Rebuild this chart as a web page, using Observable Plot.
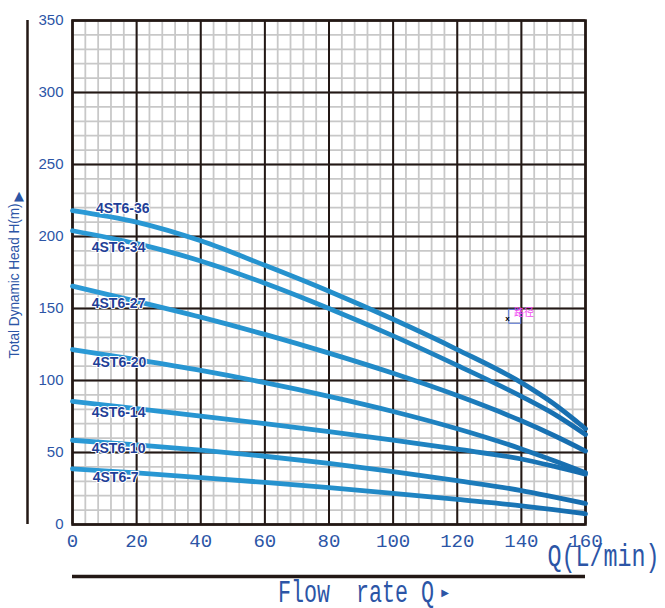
<!DOCTYPE html>
<html><head><meta charset="utf-8">
<script src="https://cdn.jsdelivr.net/npm/d3@7"></script>
<script src="https://cdn.jsdelivr.net/npm/@observablehq/plot@0.6"></script>
<style>body{margin:0;background:#fff}</style>
</head><body><div id="chart"></div>
<script>
// ---- data ----
const models = ["4ST6-36","4ST6-34","4ST6-27","4ST6-20","4ST6-14","4ST6-10","4ST6-7"];
const flow = [0, 20, 40, 60, 80, 100, 120, 140, 150, 160];
const head36 = [218, 210, 197, 180, 162, 142.5, 121.5, 98.5, 84, 66.5];
const head34 = [204, 195, 183, 167.5, 150, 131, 110.5, 89, 77, 62.5];
const head27 = [165.5, 155, 144, 132, 119, 105, 89.5, 72, 62, 51];
const head20 = [121.5, 114.5, 107, 98.5, 89, 78.5, 66.5, 52.5, 44.5, 36];
const head14 = [85.5, 80.5, 75.3, 70, 64.5, 58.6, 52.3, 45.5, 40.5, 35];
const head10 = [58.5, 55.3, 51.7, 47.4, 42.4, 36.7, 30.4, 23.6, 19.2, 14.6];
const head7  = [38.7, 35.8, 32.6, 29.2, 25.6, 21.6, 17.4, 13, 10.3, 7.4];
const heads = [head36, head34, head27, head20, head14, head10, head7];
// label anchors (data units)
const labelQ = [7.3, 6.0, 6.0, 6.3, 6.0, 6.0, 6.3];
const labelH = [219.4, 192.4, 153.5, 112.5, 77.8, 52.8, 32.6];
// axis ticks
const xTicks = [0, 20, 40, 60, 80, 100, 120, 140, 160];
const yTicks = [0, 50, 100, 150, 200, 250, 300, 350];
// stray annotation found on the original
const noteText = ["路径"];
const noteQ = [137.7], noteH = [147];
const crossQ = [135.7], crossH = [143.3];
const boxQ = [136.2, 139.95], boxH = [139.4, 149.1];

// ---- tables ----
const rows = [];
models.forEach((m, i) => flow.forEach((q, j) => rows.push({model: m, q, h: heads[i][j]})));
const labels = models.map((m, i) => ({text: m, q: labelQ[i], h: labelH[i]}));

const blue = "#2c55a6";
const dark = "#231815";

const chart = Plot.plot({
  width: 665, height: 608,
  marginLeft: 72, marginRight: 80, marginTop: 20, marginBottom: 84,
  x: {domain: [0, 160], axis: null},
  y: {domain: [0, 350], axis: null},
  style: {background: "white"},
  marks: [
    Plot.ruleX(d3.range(0, 161, 4), {stroke: "#c8c8c8", strokeWidth: 1.8}),
    Plot.ruleY(d3.range(0, 351, 10), {stroke: "#c8c8c8", strokeWidth: 1.8}),
    Plot.ruleX(d3.range(0, 161, 20), {stroke: dark, strokeWidth: 2}),
    Plot.ruleY(d3.range(0, 351, 50), {stroke: dark, strokeWidth: 2}),
    Plot.frame({stroke: dark, strokeWidth: 2.6}),
    Plot.line(rows, {x: "q", y: "h", z: "model", stroke: "url(#curveGrad)", strokeWidth: 4.8, curve: "monotone-x"}),
    Plot.text(labels, {x: "q", y: "h", text: "text", textAnchor: "start", fill: "#1f3f98",
      stroke: "white", strokeWidth: 2, fontWeight: "bold", fontSize: 14, fontFamily: "Liberation Sans"}),
    // annotation
    Plot.rect([0], {x1: () => boxQ[0], x2: () => boxQ[1], y1: () => boxH[0], y2: () => boxH[1], fill: "none", stroke: "#5a78d8", strokeWidth: 1}),
    Plot.text(noteText, {x: noteQ, y: noteH, text: d => d, textAnchor: "start", fill: "#f048f0", fontSize: 10, fontFamily: "Noto Sans CJK SC"}),
    Plot.text(["x"], {x: crossQ, y: crossH, text: d => d, fill: "#000", fontSize: 8, fontFamily: "Liberation Sans", fontWeight: "bold"}),
    // tick labels
    Plot.text(xTicks, {x: d => d, frameAnchor: "bottom", text: d => String(d), dy: 16, lineAnchor: "middle",
      fontSize: 19, fontFamily: "Liberation Mono", fill: blue, ariaLabel: "xtick"}),
    Plot.text(yTicks, {y: d => d, frameAnchor: "left", text: d => String(d), dx: -9, textAnchor: "end", lineAnchor: "middle",
      fontSize: 15, fontFamily: "Liberation Sans", fill: blue}),
    // decorations
    Plot.ruleX([0], {dx: -45, stroke: dark, strokeWidth: 2.5}),
    Plot.ruleY([0], {dy: 52, stroke: dark, strokeWidth: 3.5}),
    Plot.text(["Q(L/min)"], {frameAnchor: "bottom-right", text: d => d, textAnchor: "start", dx: -38, dy: 41,
      fontSize: 31, fontFamily: "Liberation Mono", fill: blue}),
    Plot.text(["Flow  rate Q"], {frameAnchor: "bottom", text: d => d, textAnchor: "start", dx: -51, dy: 77,
      fontSize: 31, fontFamily: "Liberation Mono", fill: blue}),
    Plot.text(["▶"], {frameAnchor: "bottom", text: d => d, dx: 116, dy: 71, fontSize: 10, fontFamily: "DejaVu Sans", fill: blue}),
    Plot.text(["Total Dynamic Head H(m)"], {frameAnchor: "left", text: d => d, rotate: -90, textAnchor: "start", dx: -58.5, dy: 86,
      fontSize: 15.5, fontFamily: "Liberation Sans", fill: blue}),
    Plot.text(["▲"], {frameAnchor: "left", text: d => d, dx: -58.5, dy: -77, fontSize: 13, fontFamily: "DejaVu Sans", fill: blue})
  ]
});

// gradient for curves
const svg = d3.select(chart);
const grad = svg.insert("defs", ":first-child").append("linearGradient")
  .attr("id", "curveGrad").attr("gradientUnits", "userSpaceOnUse")
  .attr("x1", 72).attr("x2", 585).attr("y1", 0).attr("y2", 0);
grad.append("stop").attr("offset", 0).attr("stop-color", "#2b9ad6");
grad.append("stop").attr("offset", 0.5).attr("stop-color", "#2490cc");
grad.append("stop").attr("offset", 1).attr("stop-color", "#166cae");

// condensed texts (the original uses a narrow half-width font)
const fit = {"Q(L/min)": 112, "Flow  rate Q": 156, "Total Dynamic Head H(m)": 155};
svg.selectAll("text").each(function() {
  const t = this.textContent;
  if (fit[t]) { this.setAttribute("textLength", fit[t]); this.setAttribute("lengthAdjust", "spacingAndGlyphs"); this.style.whiteSpace = "pre"; }
});
svg.selectAll('g[aria-label="xtick"] text').each(function() {
  this.setAttribute("textLength", this.textContent.length * 8.6);
  this.setAttribute("lengthAdjust", "spacingAndGlyphs");
});

document.getElementById("chart").appendChild(chart);
</script>
</body></html>
